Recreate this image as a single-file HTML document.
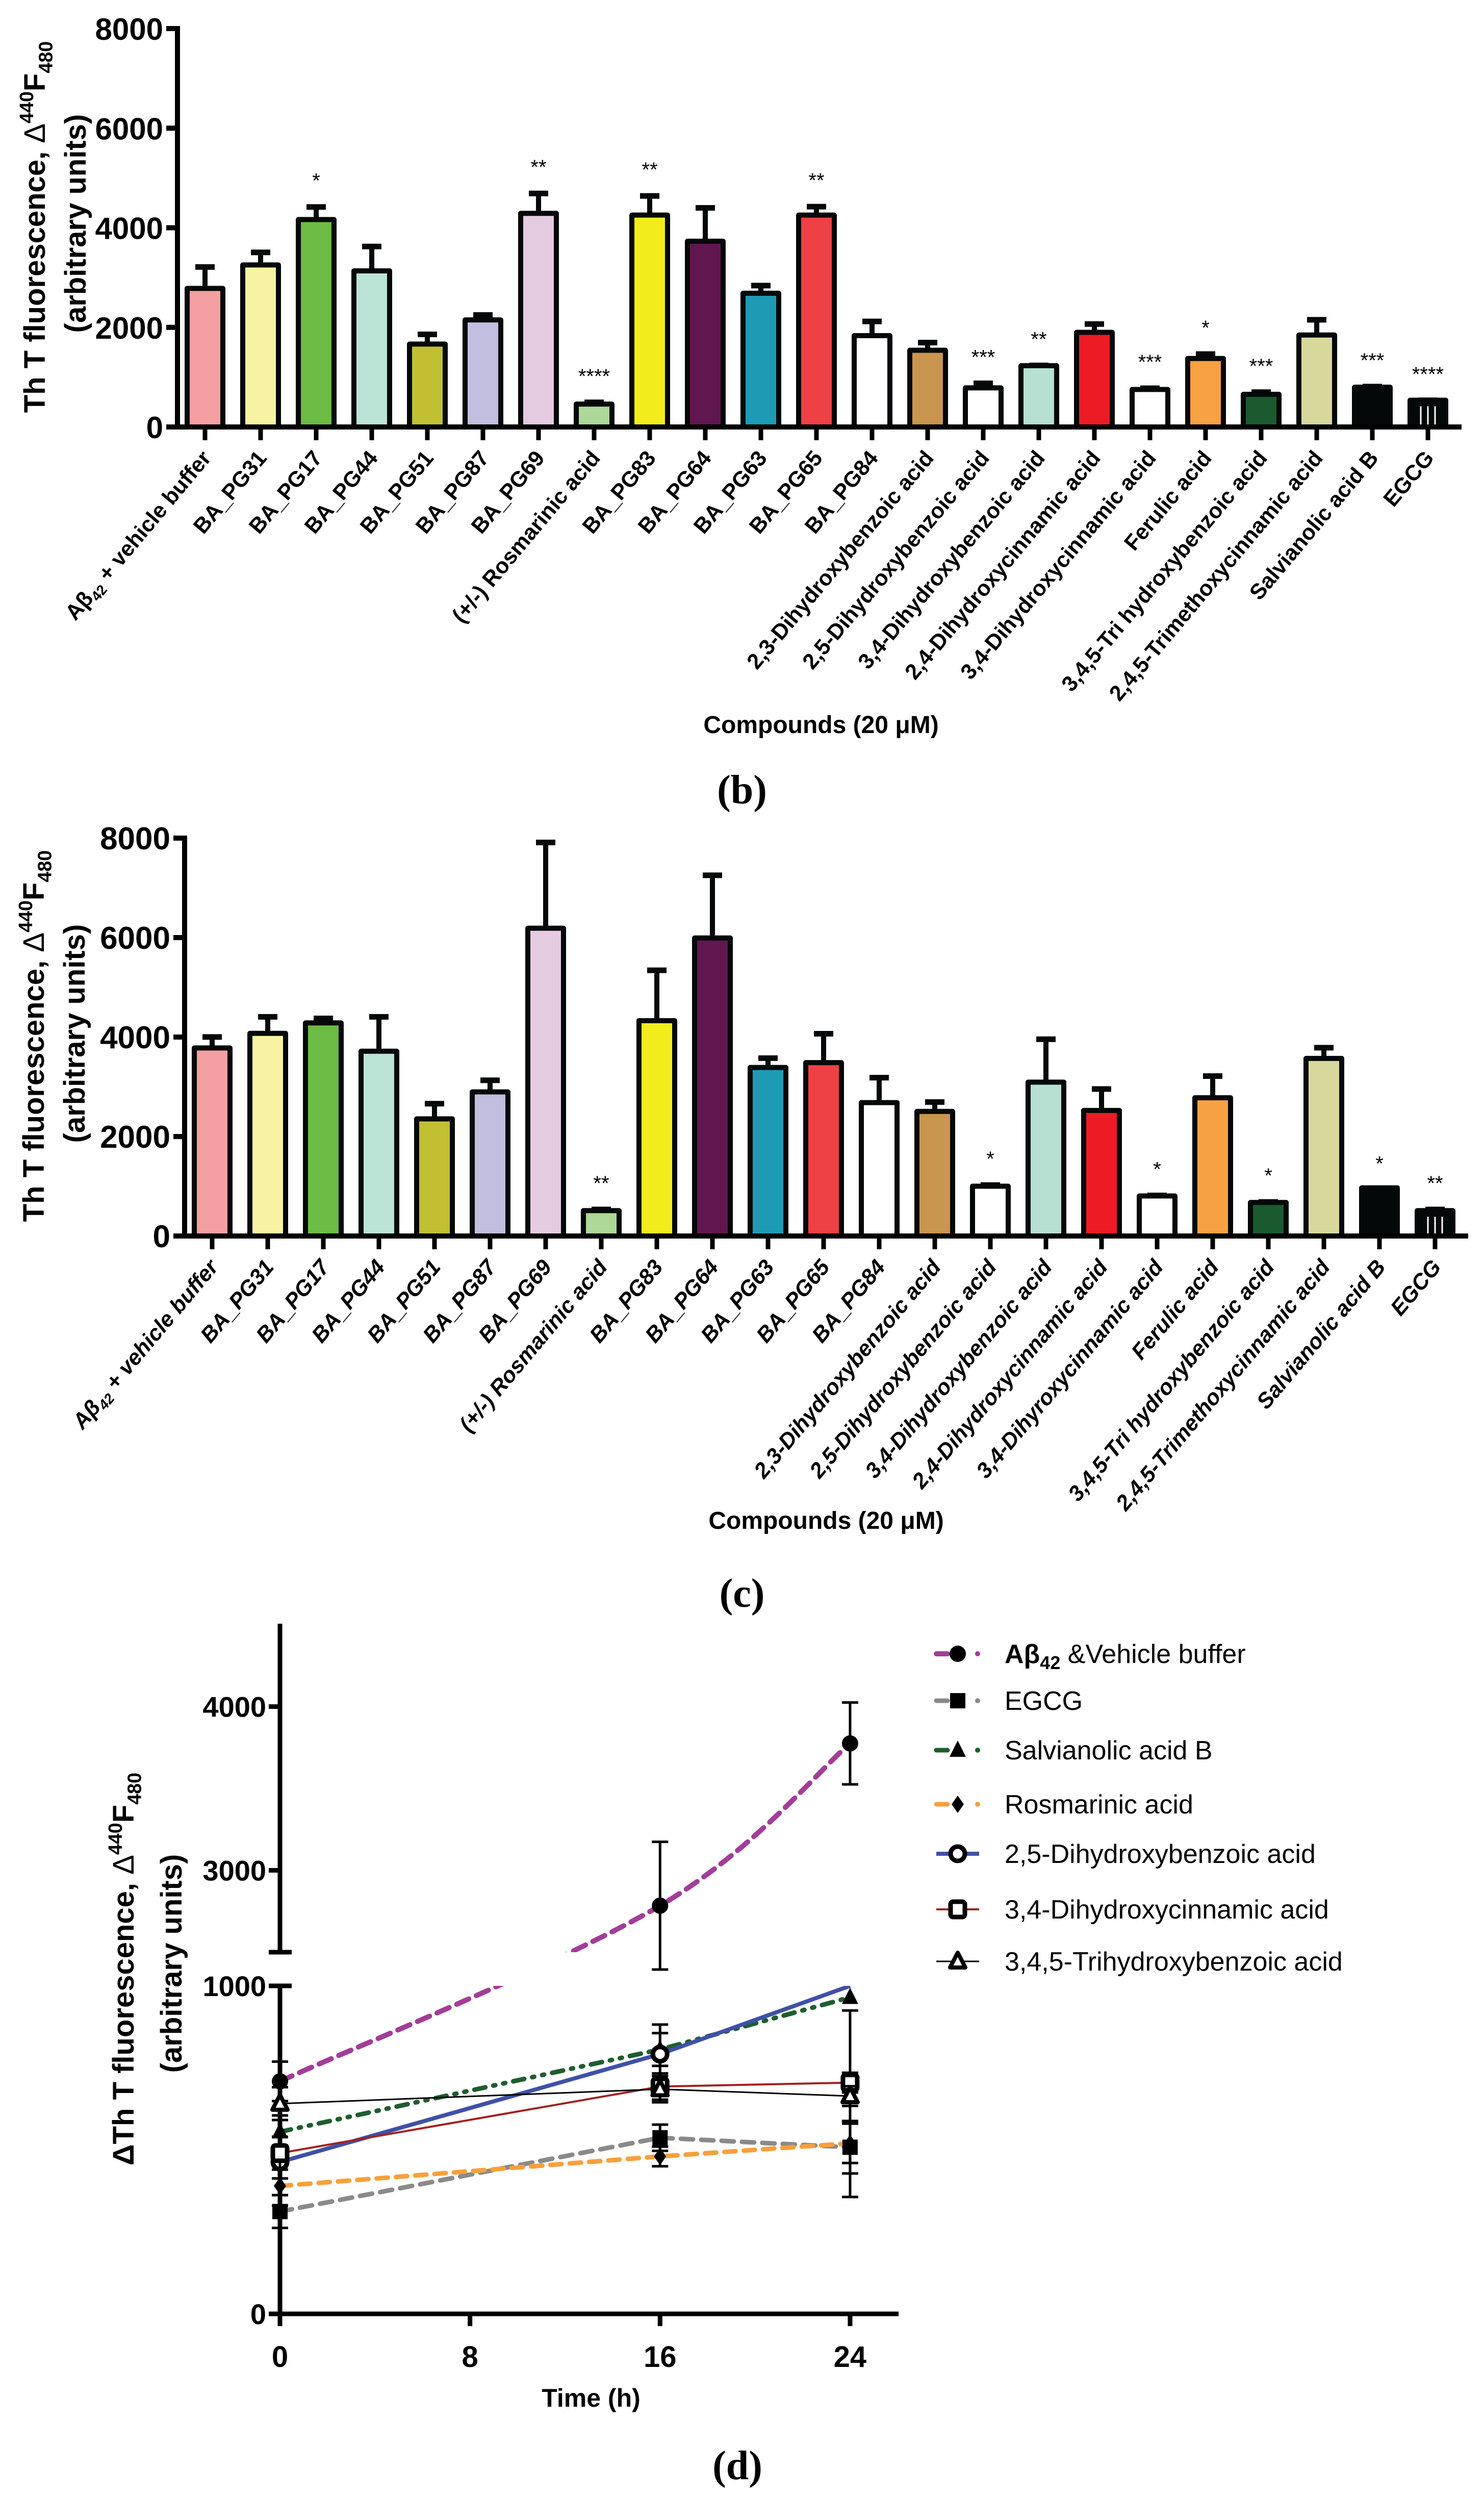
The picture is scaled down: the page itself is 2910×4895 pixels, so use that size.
<!DOCTYPE html>
<html><head><meta charset="utf-8"><style>
html,body{margin:0;padding:0;background:#fff;}
svg{display:block;font-family:"Liberation Sans",Arial,sans-serif;}
</style></head><body>
<svg id="fig" xmlns="http://www.w3.org/2000/svg" width="2910" height="4895" viewBox="0 0 2910 4895">
<defs>
<clipPath id="clipLow"><rect x="400" y="3893" width="1500" height="800"/></clipPath>
<clipPath id="clipHigh"><rect x="400" y="3000" width="1500" height="827"/></clipPath>
</defs>
<g id="pb"></g>
<g id="pc"></g>
<g id="pd"></g>
</svg>
<script>
const NS="http://www.w3.org/2000/svg";
// ---------- bar chart data ----------
const compounds=["Aβ42 + vehicle buffer","BA_PG31","BA_PG17","BA_PG44","BA_PG51","BA_PG87","BA_PG69","(+/-) Rosmarinic acid","BA_PG83","BA_PG64","BA_PG63","BA_PG65","BA_PG84","2,3-Dihydroxybenzoic acid","2,5-Dihydroxybenzoic acid","3,4-Dihydroxybenzoic acid","2,4-Dihydroxycinnamic acid","3,4-Dihydroxycinnamic acid","Ferulic acid","3,4,5-Tri hydroxybenzoic acid","2,4,5-Trimethoxycinnamic acid","Salvianolic acid B","EGCG"];
const labelsC=["Aβ42 + vehicle buffer","BA_PG31","BA_PG17","BA_PG44","BA_PG51","BA_PG87","BA_PG69","(+/-) Rosmarinic acid","BA_PG83","BA_PG64","BA_PG63","BA_PG65","BA_PG84","2,3-Dihydroxybenzoic acid","2,5-Dihydroxybenzoic acid","3,4-Dihydroxybenzoic acid","2,4-Dihydroxycinnamic acid","3,4-Dihyroxycinnamic acid","Ferulic acid","3,4,5-Tri hydroxybenzoic acid","2,4,5-Trimethoxycinnamic acid","Salvianolic acid B","EGCG"];
const barColors=["#F4A0A3","#F8F3A3","#6BBB44","#BBE3D6","#C0C032","#C2BEDF","#E5CBE0","#AED897","#F2EC1C","#60174F","#1F9AB5","#EE4145","#FFFFFF","#C8964E","#FFFFFF","#B7E0D2","#ED1C24","#FFFFFF","#F7A145","#1B5A2F","#D8D89D","#050808","#050808"];
const valuesB=[2782,3253,4165,3135,1665,2150,4290,460,4255,3730,2685,4255,1833,1540,785,1230,1900,753,1375,655,1846,799,537];
const errB=[3253,3547,4459,3665,1900,2290,4730,535,4680,4440,2880,4465,2160,1735,917,1277,2108,818,1505,740,2193,851,576];
const starsB=["","","*","","","","**","****","**","","","**","","","***","**","","***","*","***","","***","****"];
const valuesC=[3781,4075,4284,3715,2355,2898,6188,510,4330,5992,3388,3486,2682,2505,1001,3094,2525,805,2780,674,3571,968,510];
const errC=[4042,4448,4415,4448,2701,3172,7954,575,5383,7293,3617,4108,3225,2734,1066,3997,2996,857,3257,726,3827,968,575];
const starsC=["","","","","","","","**","","","","","","","*","","","*","","*","","*","**"];
const yTicksBar=[0,2000,4000,6000,8000];

// ---------- time course data ----------
const times=[0,16,24];
const timeTicks=[0,8,16,24];
const yTicksD=[0,1000,3000,4000];
const seriesNames=["Aβ42 &Vehicle buffer","EGCG","Salvianolic acid B","Rosmarinic acid","2,5-Dihydroxybenzoic acid","3,4-Dihydroxycinnamic acid","3,4,5-Trihydroxybenzoic acid"];
const sAbeta=[709,2784,3775];
const sEGCG=[312,537,508];
const sSalv=[555,806,965];
const sRos=[390,480,520];
const sDHBA25=[463,792,1000];
const sDHCA34=[490,693,705];
const sTHBA345=[641,685,664];
const eAbeta=[60,390,250];
const eEGCG=[50,40,80];
const eSalv=[50,50,40];
const eRos=[60,30,60];
const eDHBA25=[50,90,0];
const eDHCA34=[50,40,30];
const eTHBA345=[50,40,30];

function mk(tag,attrs,parent){const e=document.createElementNS(NS,tag);for(const k in attrs)e.setAttribute(k,attrs[k]);parent.appendChild(e);return e;}

function yTitle(g,cx,x1,x2,cy1,cy2,tsize,prefix){
  const t=mk("text",{transform:`translate(${x1},${cy1}) rotate(-90)`,"text-anchor":"middle","font-size":tsize,"font-weight":"bold"},g);
  
  
  t.innerHTML=`${prefix}Th T fluorescence, <tspan font-weight="normal">Δ</tspan><tspan font-size="${tsize*0.65}" dy="-${tsize*0.4}">440</tspan><tspan dy="${tsize*0.4}">F</tspan><tspan font-size="${tsize*0.65}" dy="${tsize*0.25}">480</tspan>`;
  const t2=mk("text",{transform:`translate(${x2},${cy2}) rotate(-90)`,"text-anchor":"middle","font-size":tsize,"font-weight":"bold"},g);
  
  
  t2.textContent="(arbitrary units)";
}

function barPanel(g,cfg,vals,errs,stars,labels){
  const y=v=>cfg.base-(v/8000)*(cfg.base-cfg.top);
  const x=i=>cfg.x0+i*109;
  const ya=mk("line",{x1:cfg.ax,y1:cfg.top-5,x2:cfg.ax,y2:cfg.base,stroke:"#000","stroke-width":10},g);
  
  
  yTicksBar.forEach(v=>{
    const tk=mk("line",{x1:cfg.ax-22,y1:y(v),x2:cfg.ax,y2:y(v),stroke:"#000","stroke-width":10},g);
    
    
    const tl=mk("text",{x:cfg.ax-28,y:y(v)+22,"text-anchor":"end","font-size":cfg.tickFont,"font-weight":"bold"},g);
    
    
    tl.textContent=v;
  });
  vals.forEach((v,i)=>{
    const cx=x(i);
    const eb=mk("line",{x1:cx,y1:y(v),x2:cx,y2:y(errs[i]),stroke:"#050808","stroke-width":10},g);
    
    
    const cap=mk("line",{x1:cx-19,y1:y(errs[i])+4,x2:cx+19,y2:y(errs[i])+4,stroke:"#050808","stroke-width":11},g);
    
    
    const r=mk("rect",{x:cx-35,y:y(v),width:70,height:cfg.base-y(v),fill:barColors[i],stroke:"#050808","stroke-width":10,"stroke-linejoin":"round"},g);
    
    
    if(i===22){[-14,0,14].forEach(o=>{const s=mk("line",{x1:cx+o,y1:y(v)+12,x2:cx+o,y2:cfg.base-4,stroke:"#fff","stroke-width":3},g);});}
    if(stars[i]){
      const st=mk("text",{x:cx,y:y(errs[i])-34,"text-anchor":"middle","font-size":40},g);
      
      
      st.textContent=stars[i];
    }
    const tk=mk("line",{x1:cx,y1:cfg.base,x2:cx,y2:cfg.base+26,stroke:"#000","stroke-width":9},g);
    
    
    const lb=mk("text",{transform:`translate(${cx+14},${cfg.base+62}) rotate(-50)`,"text-anchor":"end","font-size":43,"font-weight":"bold","font-style":cfg.italic?"italic":"normal"},g);
    
    
    if(i===0){lb.innerHTML='Aβ<tspan font-size="28" dy="9">42</tspan><tspan dy="-9"> + vehicle buffer</tspan>';}
    else lb.textContent=labels[i];
  });
  const xa=mk("line",{x1:cfg.ax-5,y1:cfg.base,x2:cfg.xend,y2:cfg.base,stroke:"#000","stroke-width":10},g);
  
  
  const xt=mk("text",{x:cfg.xtx,y:cfg.xty,"text-anchor":"middle","font-size":48,"font-weight":"bold"},g);
  
  
  xt.textContent=cfg.xtitle;
  const pl=mk("text",{x:1455,y:cfg.pl,"text-anchor":"middle","font-size":80,"font-weight":"bold","font-family":"Liberation Serif, serif"},g);
  
  
  pl.textContent=cfg.plText;
  yTitle(g,0,cfg.t1x,cfg.t2x,cfg.t1y,cfg.t2y,58,"");
}

barPanel(document.getElementById('pb'),{ax:348,base:837,top:56,x0:402,xend:2866,tickFont:60,italic:false,xtitle:"Compounds (20 μM)",xtx:1610,xty:1437,pl:1575,plText:"(b)",t1x:88,t2x:168,t1y:445,t2y:438},valuesB,errB,starsB,compounds);
barPanel(document.getElementById('pc'),{ax:362,base:2423,top:1643,x0:416,xend:2879,tickFont:62,italic:true,xtitle:"Compounds  (20 μM)",xtx:1620,xty:2997,pl:3150,plText:"(c)",t1x:86,t2x:166,t1y:2031,t2y:2026},valuesC,errC,starsC,labelsC);

// ---------- panel d ----------
(function(){
  const g=document.getElementById('pd');
  const xD=t=>549+t*46.58;
  const yD=v=>v<=1000?4536-v*0.643:3827-(v-2500)*0.321;
  const ya1=mk("line",{x1:549,y1:4536,x2:549,y2:3893,stroke:"#000","stroke-width":9},g);
  
  
  const ya2=mk("line",{x1:549,y1:3827,x2:549,y2:3183,stroke:"#000","stroke-width":9},g);
  
  
  const br=mk("line",{x1:527,y1:3827,x2:572,y2:3827,stroke:"#000","stroke-width":9},g);
  
  
  yTicksD.forEach(v=>{
    const tk=mk("line",{x1:527,y1:yD(v),x2:(v===1000?572:549),y2:yD(v),stroke:"#000","stroke-width":9},g);
    
    
    const tl=mk("text",{x:522,y:yD(v)+20,"text-anchor":"end","font-size":56,"font-weight":"bold"},g);
    
    
    tl.textContent=v;
  });
  const xa=mk("line",{x1:545,y1:4536,x2:1762,y2:4536,stroke:"#000","stroke-width":9},g);
  
  
  timeTicks.forEach(t=>{
    const tk=mk("line",{x1:xD(t),y1:4536,x2:xD(t),y2:4560,stroke:"#000","stroke-width":9},g);
    
    
    const tl=mk("text",{x:xD(t),y:4640,"text-anchor":"middle","font-size":58,"font-weight":"bold"},g);
    
    
    tl.textContent=t;
  });
  const xt=mk("text",{x:1159,y:4718,"text-anchor":"middle","font-size":50,"font-weight":"bold"},g);
  
  
  xt.textContent="Time (h)";
  const pl=mk("text",{x:1446,y:4860,"text-anchor":"middle","font-size":80,"font-weight":"bold","font-family":"Liberation Serif, serif"},g);
  
  
  pl.textContent="(d)";
  yTitle(g,0,262,356,3860,3849,58,"Δ");

  const series=[
    {v:sAbeta,e:eAbeta,c:"#A33D98",w:10,d:"26 16",m:"circle",smooth:true},
    {v:sEGCG,e:eEGCG,c:"#8A8A8A",w:9,d:"24 16",m:"square",smooth:false},
    {v:sSalv,e:eSalv,c:"#1D5E2E",w:9,d:"22 16 4 16 4 16",m:"triangle",smooth:false},
    {v:sRos,e:eRos,c:"#F7A03C",w:9,d:"22 16",m:"diamond",smooth:false},
    {v:sDHBA25,e:eDHBA25,c:"#3F51A6",w:8,d:"",m:"ocircle",smooth:false},
    {v:sDHCA34,e:eDHCA34,c:"#A3211F",w:4,d:"",m:"osquare",smooth:false},
    {v:sTHBA345,e:eTHBA345,c:"#000000",w:3,d:"",m:"otriangle",smooth:false}
  ];
  function pathFor(pts,smooth){
    let d=`M${pts[0][0]},${pts[0][1]}`;
    for(let i=0;i<pts.length-1;i++){
      if(!smooth){d+=` L${pts[i+1][0]},${pts[i+1][1]}`;continue;}
      const p0=pts[Math.max(0,i-1)],p1=pts[i],p2=pts[i+1],p3=pts[Math.min(pts.length-1,i+2)];
      const c1=[p1[0]+(p2[0]-p0[0])/6,p1[1]+(p2[1]-p0[1])/6],c2=[p2[0]-(p3[0]-p1[0])/6,p2[1]-(p3[1]-p1[1])/6];
      d+=` C${c1[0]},${c1[1]} ${c2[0]},${c2[1]} ${p2[0]},${p2[1]}`;
    }
    return d;
  }
  function marker(type,cx,cy,parent){
    let el;
    if(type==="circle")el=mk("circle",{cx,cy,r:16,fill:"#000"},parent);
    else if(type==="square")el=mk("rect",{x:cx-15,y:cy-15,width:30,height:30,fill:"#000"},parent);
    else if(type==="triangle")el=mk("polygon",{points:`${cx},${cy-19} ${cx-16},${cy+13} ${cx+16},${cy+13}`,fill:"#000"},parent);
    else if(type==="diamond")el=mk("polygon",{points:`${cx},${cy-17} ${cx-12},${cy} ${cx},${cy+17} ${cx+12},${cy}`,fill:"#000"},parent);
    else if(type==="ocircle")el=mk("circle",{cx,cy,r:14,fill:"#fff",stroke:"#000","stroke-width":9},parent);
    else if(type==="osquare")el=mk("rect",{x:cx-14,y:cy-15,width:28,height:30,rx:5,fill:"#fff",stroke:"#000","stroke-width":9},parent);
    else el=mk("polygon",{points:`${cx},${cy-17} ${cx-15},${cy+12} ${cx+15},${cy+12}`,fill:"#fff",stroke:"#000","stroke-width":8,"stroke-linejoin":"round"},parent);
    return el;
  }
  series.forEach((s,k)=>{
    const pts=times.map((t,i)=>[xD(t),yD(s.v[i])]);
    const d=pathFor(pts,s.smooth);
    ["clipLow","clipHigh"].forEach(cp=>{
      const p=mk("path",{d,fill:"none",stroke:s.c,"stroke-width":s.w,"stroke-dasharray":s.d,"stroke-linecap":s.d?"round":"butt","clip-path":`url(#${cp})`},g);
      
      
    });
  });
  series.forEach((s,k)=>{
    times.forEach((t,i)=>{
      const cx=xD(t),v=s.v[i],e=s.e[i];
      if(e>0){
        const lo=Math.max(0,v-e),hi=v+e;
        const eb=mk("line",{x1:cx,y1:yD(lo),x2:cx,y2:yD(hi),stroke:"#000","stroke-width":5},g);
        
        
        [lo,hi].forEach(b=>{const c=mk("line",{x1:cx-16,y1:yD(b),x2:cx+16,y2:yD(b),stroke:"#000","stroke-width":5},g);});
      }
      if(k===4&&i===2)return;
      const m=marker(s.m,cx,yD(v),g);
      
      
    });
  });
  const ly=[3242,3334,3431,3537,3634,3743,3845];
  series.forEach((s,k)=>{
    const lg=mk("g",{},g);
    
    
    if(s.d){
      mk("line",{x1:1836,y1:ly[k],x2:1858,y2:ly[k],stroke:s.c,"stroke-width":s.w,"stroke-linecap":"round"},lg);
      mk("circle",{cx:1917,cy:ly[k],r:5,fill:s.c},lg);
    } else {
      mk("line",{x1:1836,y1:ly[k],x2:1920,y2:ly[k],stroke:s.c,"stroke-width":s.w},lg);
    }
    marker(s.m,1878,ly[k],lg);
    const tx=mk("text",{x:1970,y:ly[k]+18,"font-size":52},lg);
    if(k===0){tx.innerHTML='<tspan font-weight="bold">Aβ</tspan><tspan font-weight="bold" font-size="36" dy="12">42</tspan><tspan dy="-12">  &amp;Vehicle buffer</tspan>';}
    else tx.textContent=seriesNames[k];
  });
})();
</script>
</body></html>
